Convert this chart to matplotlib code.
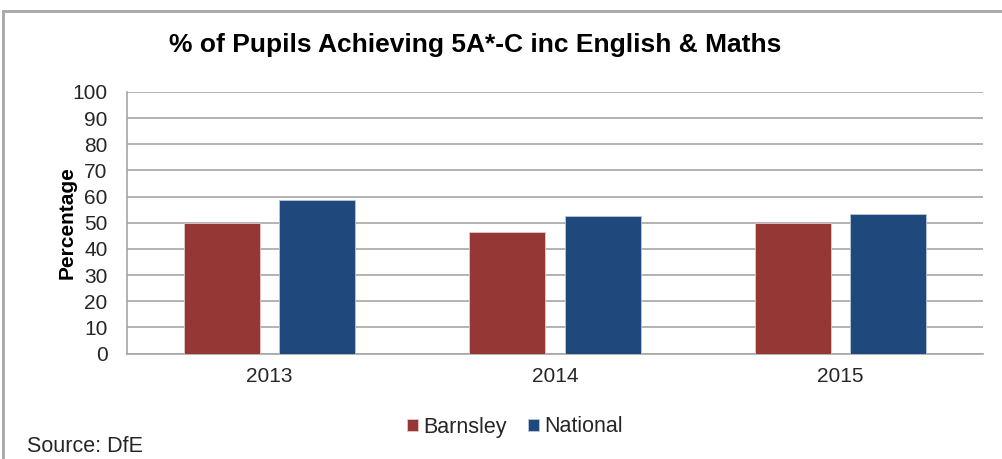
import matplotlib
matplotlib.use("Agg")
import matplotlib.pyplot as plt
import numpy as np
from matplotlib.patches import Rectangle

years = ["2013", "2014", "2015"]
barnsley = [49.8, 46.6, 49.8]
national = [58.6, 52.6, 53.5]
yticks = list(range(0, 101, 10))

plt.rcParams['font.family'] = ['Liberation Sans', 'DejaVu Sans']

fig = plt.figure(figsize=(10.03, 4.59), dpi=100)
# outer frame
fig.patches.append(Rectangle((3.5/1003, -0.05), 1.2, 1 - 10.5/459 + 0.05,
                             transform=fig.transFigure, fill=False,
                             edgecolor='#a6a6a6', linewidth=2.0))

ax = fig.add_axes([127/1003, 1 - 353.5/459, (983 - 127)/1003, (353.5 - 92)/459])
x = np.arange(len(years))
w = 0.267
off = 0.167
ax.bar(x - off, barnsley, w, color='#953735', edgecolor='#e6c8c8', linewidth=0.6,
       label='Barnsley', zorder=3)
ax.bar(x + off, national, w, color='#1F497D', edgecolor='#b8c8dc', linewidth=0.6,
       label='National', zorder=3)

ax.set_xlim(-0.5, 2.5)
ax.set_ylim(0, 100)
ax.set_yticks(yticks)
ax.set_xticks(x)
ax.set_xticklabels(years)
ax.yaxis.grid(True, color='#a6a6a6', linewidth=1.2, zorder=0)
ax.set_axisbelow(True)
for s in ['top', 'right']:
    ax.spines[s].set_visible(False)
for s in ['left', 'bottom']:
    ax.spines[s].set_color('#a6a6a6')
    ax.spines[s].set_linewidth(1.2)
ax.tick_params(axis='y', length=0, labelsize=15, labelcolor='#262626', pad=14)
ax.tick_params(axis='x', length=0, labelsize=15, labelcolor='#262626', pad=10)
ax.set_ylabel('Percentage', fontsize=15, fontweight='bold', labelpad=-3)

fig.text(475/1003, 1 - 45/459, '% of Pupils Achieving 5A*-C inc English & Maths',
         ha='center', va='center', fontsize=19, fontweight='bold', color='#000000')

leg = fig.legend(loc='center', bbox_to_anchor=(515/1003, 1 - 427/459), ncol=2,
                 frameon=False, fontsize=15.5, handlelength=0.5, handleheight=0.5,
                 handletextpad=0.25, columnspacing=1.0)
for t in leg.get_texts():
    t.set_color('#262626')

fig.text(27/1003, 1 - 447/459, 'Source: DfE', ha='left', va='center',
         fontsize=15.5, color='#262626')

fig.savefig('out.png', dpi=100)
